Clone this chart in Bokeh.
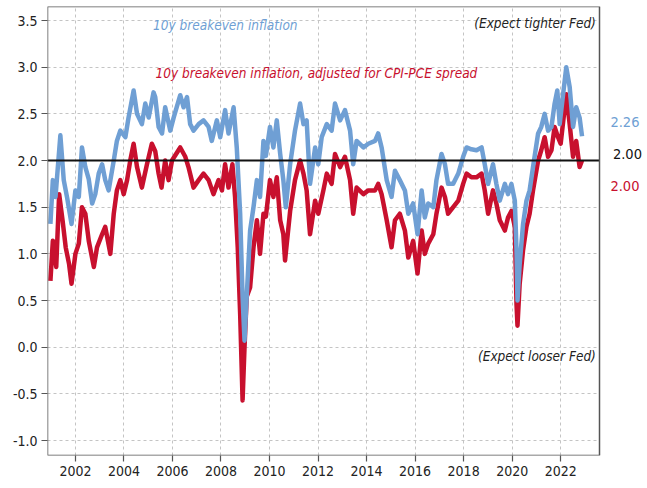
from bokeh.plotting import figure
from bokeh.models import FixedTicker, NumeralTickFormatter, Label, Range1d, BoxAnnotation
from bokeh.core.properties import value
from bokeh.embed import file_html
from bokeh.resources import INLINE

# ---- data ----
blue_years = [2000.97, 2001.07, 2001.18, 2001.38, 2001.52, 2001.66, 2001.84, 2002.00, 2002.14, 2002.27,
              2002.41, 2002.55, 2002.69, 2002.82, 2002.96, 2003.10, 2003.23, 2003.37, 2003.58, 2003.71,
              2003.85, 2004.06, 2004.19, 2004.40, 2004.54, 2004.74, 2004.88, 2005.02, 2005.22, 2005.29,
              2005.43, 2005.57, 2005.70, 2005.91, 2006.05, 2006.32, 2006.46, 2006.60, 2006.73, 2006.87,
              2007.08, 2007.28, 2007.49, 2007.62, 2007.83, 2007.97, 2008.17, 2008.31, 2008.52, 2008.65,
              2008.79, 2008.89, 2008.97, 2009.06, 2009.20, 2009.34, 2009.48, 2009.61, 2009.75, 2009.85,
              2010.02, 2010.16, 2010.30, 2010.44, 2010.57, 2010.67, 2010.85, 2011.05, 2011.26, 2011.40,
              2011.53, 2011.67, 2011.88, 2012.01, 2012.15, 2012.36, 2012.56, 2012.70, 2012.91, 2013.11,
              2013.32, 2013.45, 2013.59, 2013.87, 2014.07, 2014.35, 2014.48, 2014.62, 2014.83, 2015.03,
              2015.17, 2015.37, 2015.58, 2015.72, 2015.92, 2016.10, 2016.27, 2016.40, 2016.54, 2016.75,
              2016.88, 2017.09, 2017.23, 2017.36, 2017.57, 2017.78, 2017.98, 2018.12, 2018.32, 2018.53,
              2018.74, 2018.87, 2019.01, 2019.21, 2019.35, 2019.49, 2019.70, 2019.83, 2019.97, 2020.11,
              2020.18, 2020.22, 2020.31, 2020.45, 2020.59, 2020.72, 2020.86, 2021.07, 2021.20, 2021.34,
              2021.48, 2021.62, 2021.75, 2021.86, 2021.96, 2022.10, 2022.23, 2022.37, 2022.51, 2022.64,
              2022.78, 2022.88]
blue_vals = [1.32, 1.79, 1.61, 2.27, 1.79, 1.60, 1.32, 1.68, 1.61, 2.14,
             1.93, 1.80, 1.54, 1.64, 1.86, 1.96, 1.79, 1.68, 2.00, 2.21,
             2.32, 2.25, 2.46, 2.75, 2.50, 2.39, 2.61, 2.46, 2.73, 2.68,
             2.36, 2.29, 2.57, 2.32, 2.46, 2.70, 2.57, 2.68, 2.39, 2.32,
             2.39, 2.43, 2.36, 2.21, 2.43, 2.25, 2.54, 2.29, 2.57, 2.14,
             1.43, 0.54, 0.07, 0.54, 1.25, 1.50, 1.79, 1.61, 2.21, 2.05,
             2.36, 2.14, 2.43, 2.07, 1.79, 1.50, 1.96, 2.32, 2.61, 2.39,
             2.43, 1.75, 2.14, 1.96, 2.25, 2.39, 2.32, 2.61, 2.43, 2.54,
             2.32, 1.96, 2.21, 2.14, 2.18, 2.21, 2.29, 2.14, 1.79, 1.61,
             1.89, 1.79, 1.68, 1.43, 1.54, 1.21, 1.68, 1.39, 1.54, 1.50,
             1.79, 2.07, 1.96, 1.75, 1.75, 1.86, 2.04, 2.14, 2.12, 2.11,
             2.14, 1.96, 1.75, 1.96, 1.75, 1.57, 1.75, 1.64, 1.75, 1.57,
             1.04, 0.50, 0.89, 1.32, 1.57, 1.68, 1.93, 2.29, 2.36, 2.50,
             2.32, 2.36, 2.61, 2.75, 2.39, 2.71, 3.00, 2.79, 2.36, 2.57,
             2.46, 2.26]

red_years = [2000.97, 2001.07, 2001.21, 2001.33, 2001.47, 2001.60, 2001.74, 2001.84, 2002.00, 2002.14,
             2002.27, 2002.41, 2002.55, 2002.76, 2002.89, 2003.10, 2003.23, 2003.44, 2003.58, 2003.71,
             2003.85, 2003.99, 2004.13, 2004.26, 2004.40, 2004.54, 2004.74, 2004.95, 2005.15, 2005.29,
             2005.43, 2005.55, 2005.70, 2005.84, 2005.98, 2006.32, 2006.53, 2006.66, 2006.87, 2007.08,
             2007.28, 2007.49, 2007.69, 2007.90, 2008.04, 2008.17, 2008.31, 2008.47, 2008.58, 2008.69,
             2008.79, 2008.89, 2008.97, 2009.06, 2009.20, 2009.34, 2009.48, 2009.61, 2009.75, 2009.85,
             2010.02, 2010.16, 2010.30, 2010.44, 2010.57, 2010.64, 2010.85, 2011.05, 2011.26, 2011.40,
             2011.53, 2011.67, 2011.88, 2012.01, 2012.22, 2012.36, 2012.56, 2012.70, 2012.91, 2013.11,
             2013.32, 2013.45, 2013.59, 2013.87, 2014.07, 2014.35, 2014.48, 2014.62, 2014.83, 2015.03,
             2015.17, 2015.37, 2015.58, 2015.72, 2015.92, 2016.10, 2016.27, 2016.40, 2016.54, 2016.75,
             2016.88, 2017.09, 2017.23, 2017.36, 2017.57, 2017.78, 2017.98, 2018.12, 2018.32, 2018.53,
             2018.74, 2018.87, 2019.01, 2019.21, 2019.35, 2019.49, 2019.70, 2019.83, 2019.97, 2020.11,
             2020.18, 2020.22, 2020.31, 2020.45, 2020.59, 2020.72, 2020.86, 2021.07, 2021.20, 2021.34,
             2021.48, 2021.62, 2021.75, 2021.89, 2022.00, 2022.23, 2022.37, 2022.51, 2022.64, 2022.78,
             2022.88]
red_vals = [0.71, 1.14, 0.86, 1.64, 1.36, 1.07, 0.89, 0.68, 1.00, 1.11,
            1.50, 1.43, 1.14, 0.86, 1.07, 1.21, 1.29, 1.00, 1.43, 1.68,
            1.79, 1.64, 1.79, 2.00, 2.18, 1.93, 1.71, 1.96, 2.18, 2.10,
            1.86, 1.71, 2.00, 1.79, 2.00, 2.14, 2.04, 1.93, 1.71, 1.79,
            1.86, 1.79, 1.64, 1.79, 1.68, 1.96, 1.71, 1.96, 1.61, 1.07,
            0.36, -0.57, 0.00, 0.54, 0.64, 1.07, 1.36, 1.00, 1.43, 1.40,
            1.79, 1.61, 1.82, 1.36, 1.21, 0.93, 1.46, 1.79, 2.00, 1.86,
            1.68, 1.21, 1.57, 1.43, 1.68, 1.86, 1.75, 2.07, 1.93, 2.04,
            1.79, 1.43, 1.71, 1.64, 1.68, 1.68, 1.75, 1.64, 1.36, 1.07,
            1.36, 1.43, 1.25, 0.96, 1.14, 0.79, 1.25, 1.00, 1.11, 1.21,
            1.43, 1.71, 1.61, 1.43, 1.50, 1.57, 1.75, 1.86, 1.82, 1.82,
            1.86, 1.68, 1.43, 1.68, 1.54, 1.36, 1.25, 1.39, 1.46, 1.29,
            0.46, 0.23, 0.68, 1.04, 1.29, 1.43, 1.68, 2.00, 2.11, 2.25,
            2.04, 2.11, 2.36, 2.25, 2.18, 2.71, 2.39, 2.04, 2.21, 1.93,
            2.00]

target = 2.0
x_ticks = [2002, 2004, 2006, 2008, 2010, 2012, 2014, 2016, 2018, 2020, 2022]
y_ticks = [3.5, 3.0, 2.5, 2.0, 1.5, 1.0, 0.5, 0.0, -0.5, -1.0]

blue_name = "10y breakeven inflation"
red_name = "10y breakeven inflation, adjusted for CPI-PCE spread"

# ---- layout / styling ----
FONT = "'DejaVu Sans Condensed', 'Liberation Sans Narrow', sans-serif"
BLUE = "#6f9fd4"
RED = "#c8102e"
TXT = "#222222"

W, H = 646, 487
LEFT, TOP, BOTTOM = 47, 6, 32          # border sizes in px
X0, X1 = 2000.85, 2023.6               # x extent of the boxed plot area
Y0, Y1 = -1.16, 3.65
BOX_PX = 552                           # boxed plot width in px
frame_px = W - LEFT
x_end = X0 + (X1 - X0) * frame_px / BOX_PX   # frame extends right to hold the value labels

p = figure(width=W, height=H, output_backend="svg", toolbar_location=None,
           x_range=Range1d(X0, x_end), y_range=Range1d(Y0, Y1),
           min_border_left=LEFT, min_border_right=0, min_border_top=TOP, min_border_bottom=BOTTOM)

p.outline_line_color = None
p.background_fill_color = "white"
p.border_fill_color = "white"

for ax in (p.xaxis[0], p.yaxis[0]):
    ax.axis_line_color = None
    ax.major_tick_line_color = "#555555"
    ax.major_tick_line_width = 1.2
    ax.major_tick_out = 6
    ax.major_tick_in = 0
    ax.minor_tick_line_color = None
    ax.major_label_text_font = FONT
    ax.major_label_text_font_size = "14px"
    ax.major_label_text_color = TXT
    ax.major_label_standoff = 4

p.xaxis.ticker = FixedTicker(ticks=x_ticks)
p.xaxis.formatter = NumeralTickFormatter(format="0")
p.yaxis.ticker = FixedTicker(ticks=y_ticks)
p.yaxis.formatter = NumeralTickFormatter(format="0.0")

for g in (p.xgrid[0], p.ygrid[0]):
    g.grid_line_color = "#c4c4c4"
    g.grid_line_dash = "3 3"
    g.grid_line_width = 1
p.xgrid.ticker = FixedTicker(ticks=x_ticks)
p.ygrid.ticker = FixedTicker(ticks=y_ticks)
p.ygrid.cross_bounds = (X0, X1)

p.line(red_years, red_vals, line_color=RED, line_width=4.5, line_join="round")
p.line(blue_years, blue_vals, line_color=BLUE, line_width=4.5, line_join="round")
p.line([X0, X1], [target, target], line_color="#111111", line_width=2)

# plot box
p.add_layout(BoxAnnotation(left=X0, right=X1, bottom=Y0, top=Y1, fill_alpha=0,
                           line_color="#555555", line_width=1.5, line_alpha=1))

# in-plot annotations
p.add_layout(Label(x=2005.2, y=3.45, text=blue_name, text_color=BLUE, text_font=FONT,
                   text_font_style="italic", text_font_size="13.5px", text_baseline="middle"))
p.add_layout(Label(x=2005.3, y=2.94, text=red_name, text_color=RED, text_font=FONT,
                   text_font_style="italic", text_font_size="13.5px", text_baseline="middle"))
p.add_layout(Label(x=2023.45, y=3.47, text="(Expect tighter Fed)", text_color=TXT, text_font=FONT,
                   text_font_style="italic", text_font_size="13.5px", text_align="right",
                   text_baseline="middle"))
p.add_layout(Label(x=2023.45, y=-0.09, text="(Expect looser Fed)", text_color=TXT, text_font=FONT,
                   text_font_style="italic", text_font_size="13.5px", text_align="right",
                   text_baseline="middle"))

# right-hand value labels (inside the widened frame, to the right of the box)
p.text(x=[2024.05, 2024.05], y=[2.41, 1.73],
       text=[f"{blue_vals[-1]:.2f}", f"{red_vals[-1]:.2f}"],
       text_color=[BLUE, RED], text_font=value(FONT), text_font_size="14.5px",
       text_baseline="middle", text_align="left")
p.text(x=[2025.35], y=[2.07], text=[f"{target:.2f}"], text_color="#111111",
       text_font=value(FONT), text_font_size="14.5px", text_baseline="middle", text_align="right")

open("out.html", "w").write(file_html(p, INLINE))
